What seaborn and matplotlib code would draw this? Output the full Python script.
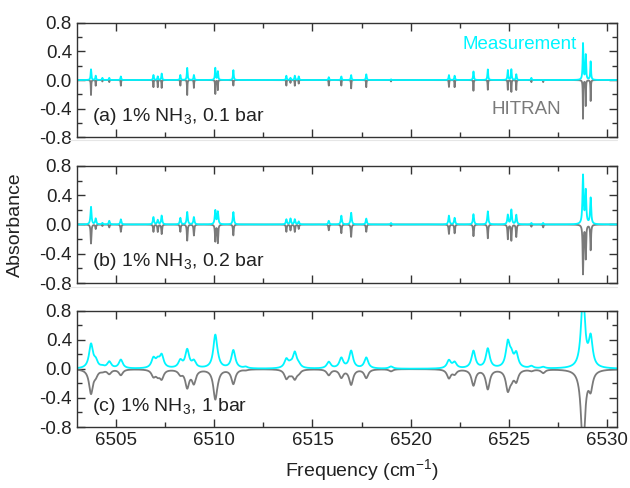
import numpy as np
import pandas as pd
import matplotlib
matplotlib.use("Agg")
import matplotlib.pyplot as plt
from matplotlib.ticker import MultipleLocator
import seaborn as sns

# ---- data (line centres and peak heights) ----
line_pos = [6503.72, 6503.96, 6504.30, 6504.65, 6505.24, 6506.90, 6507.12, 6507.32,
            6508.27, 6508.62, 6508.96, 6510.05, 6510.18, 6510.97, 6511.60, 6513.67,
            6513.88, 6514.10, 6514.30, 6515.83, 6516.47, 6516.97, 6517.74, 6519.00,
            6521.95, 6522.24, 6523.20, 6523.93, 6524.95, 6525.13, 6525.38, 6526.15,
            6526.75, 6528.78, 6528.92, 6529.17]

meas_a = [0.15, 0.06, 0.03, 0.03, 0.05, 0.07, 0.05, 0.09, 0.07, 0.17, 0.07, 0.17,
          0.12, 0.14, 0.00, 0.06, 0.03, 0.06, 0.05, 0.04, 0.05, 0.07, 0.08, 0.01,
          0.07, 0.06, 0.12, 0.15, 0.14, 0.15, 0.08, 0.03, 0.00, 0.51, 0.35, 0.26]
hitran_a = [0.21, 0.08, 0.02, 0.03, 0.08, 0.10, 0.10, 0.11, 0.08, 0.21, 0.11, 0.20,
            0.14, 0.08, 0.00, 0.08, 0.04, 0.08, 0.05, 0.08, 0.08, 0.12, 0.10, 0.02,
            0.10, 0.10, 0.15, 0.14, 0.14, 0.17, 0.14, 0.03, 0.03, 0.54, 0.36, 0.30]

meas_b = [0.24, 0.08, 0.02, 0.05, 0.07, 0.10, 0.06, 0.12, 0.09, 0.17, 0.10, 0.19,
          0.17, 0.17, 0.00, 0.07, 0.08, 0.07, 0.04, 0.05, 0.12, 0.16, 0.08, 0.02,
          0.12, 0.09, 0.14, 0.18, 0.13, 0.20, 0.13, 0.02, 0.02, 0.66, 0.45, 0.36]
hitran_b = [0.26, 0.06, 0.02, 0.04, 0.10, 0.10, 0.10, 0.13, 0.10, 0.22, 0.15, 0.23,
            0.25, 0.15, 0.00, 0.10, 0.08, 0.10, 0.06, 0.08, 0.12, 0.17, 0.10, 0.02,
            0.13, 0.12, 0.16, 0.19, 0.20, 0.22, 0.17, 0.03, 0.04, 0.67, 0.46, 0.35]

meas_c = [0.33, 0.09, 0.02, 0.09, 0.12, 0.13, 0.09, 0.17, 0.10, 0.25, 0.09, 0.45,
          0.03, 0.25, 0.02, 0.12, 0.04, 0.21, 0.04, 0.09, 0.14, 0.24, 0.15, 0.03,
          0.11, 0.08, 0.24, 0.27, 0.34, 0.14, 0.19, 0.03, 0.02, 1.00, 0.00, 0.40]
hitran_c = [0.33, 0.07, 0.02, 0.06, 0.08, 0.09, 0.07, 0.12, 0.06, 0.24, 0.18, 0.40,
            0.03, 0.20, 0.01, 0.12, 0.04, 0.12, 0.04, 0.08, 0.11, 0.21, 0.12, 0.03,
            0.12, 0.06, 0.22, 0.27, 0.27, 0.10, 0.15, 0.02, 0.05, 1.10, 0.00, 0.24]

# Lorentzian half-widths (cm-1) per panel: measurement, HITRAN
hwhm_meas = [0.022, 0.032, 0.12]
hwhm_hitran = [0.012, 0.022, 0.12]

panel_labels = [r"(a) 1% NH$_3$, 0.1 bar", r"(b) 1% NH$_3$, 0.2 bar", r"(c) 1% NH$_3$, 1 bar"]
x_ticks = [6505, 6510, 6515, 6520, 6525, 6530]
y_ticks = [-0.8, -0.4, 0.0, 0.4, 0.8]

CYAN = "#00F5FF"
GRAY = "#7A7A7A"

sns.set_theme(style="ticks")
plt.rcParams["font.family"] = ["Liberation Sans", "DejaVu Sans"]
plt.rcParams["mathtext.fontset"] = "custom"
plt.rcParams["mathtext.rm"] = "Liberation Sans"
plt.rcParams["mathtext.it"] = "Liberation Sans:italic"

nu = np.arange(6502.9, 6530.6, 0.004)


def spectrum(amps, hw):
    s = np.zeros_like(nu)
    for p, a in zip(line_pos, amps):
        s += a / (1.0 + ((nu - p) / hw) ** 2)
    return s


fig = plt.figure(figsize=(6.3, 4.88), dpi=100)
rects = [(0.122, 0.719, 0.857, 0.234),
         (0.122, 0.420, 0.857, 0.240),
         (0.122, 0.125, 0.857, 0.238)]
meas_all = [meas_a, meas_b, meas_c]
hit_all = [hitran_a, hitran_b, hitran_c]

for i, r in enumerate(rects):
    ax = fig.add_axes(r)
    df = pd.DataFrame({
        "nu": np.concatenate([nu, nu]),
        "A": np.concatenate([-spectrum(hit_all[i], hwhm_hitran[i]),
                             spectrum(meas_all[i], hwhm_meas[i])]),
        "src": ["HITRAN"] * len(nu) + ["Measurement"] * len(nu),
    })
    sns.lineplot(data=df, x="nu", y="A", hue="src", palette={"HITRAN": GRAY, "Measurement": CYAN},
                 hue_order=["HITRAN", "Measurement"], lw=1.3, legend=False, ax=ax,
                 estimator=None, sort=False)
    ax.set_xlim(6503.0, 6530.5)
    ax.set_ylim(-0.8, 0.8)
    ax.set_xticks(x_ticks)
    ax.set_yticks(y_ticks)
    ax.set_yticklabels(["-0.8", "-0.4", "0.0", "0.4", "0.8"])
    ax.xaxis.set_minor_locator(MultipleLocator(2.5))
    ax.yaxis.set_minor_locator(MultipleLocator(0.2))
    ax.tick_params(which="both", direction="in", top=True, right=True, labelsize=13.5,
                   color="#333333", width=1.0, labelcolor="#222222")
    ax.tick_params(which="major", length=6)
    ax.tick_params(which="minor", length=3.5)
    for sp in ax.spines.values():
        sp.set_color("#333333")
        sp.set_linewidth(1.0)
    ax.set_xlabel("")
    ax.set_ylabel("")
    if i < 2:
        ax.set_xticklabels([])
    ax.text(0.028, 0.18, panel_labels[i], transform=ax.transAxes, fontsize=14,
            ha="left", va="center", color="#222222")
    if i == 0:
        ax.text(6528.45, 0.5, "Measurement", color=CYAN, fontsize=13.5, ha="right", va="center")
        ax.text(6525.9, -0.41, "HITRAN", color=GRAY, fontsize=13.5, ha="center", va="center")

fig.text(0.575, 0.037, r"Frequency (cm$^{-1}$)", ha="center", va="center", fontsize=14, color="#222222")
fig.text(0.024, 0.54, "Absorbance", ha="center", va="center", rotation=90, fontsize=14, color="#222222")
for yl in [1 - 140 / 488, 1 - 287 / 488]:
    fig.add_artist(plt.Line2D([0.11, 0.98], [yl, yl], color="#E6E6E6", lw=0.8))

fig.savefig("out.png", dpi=100)
